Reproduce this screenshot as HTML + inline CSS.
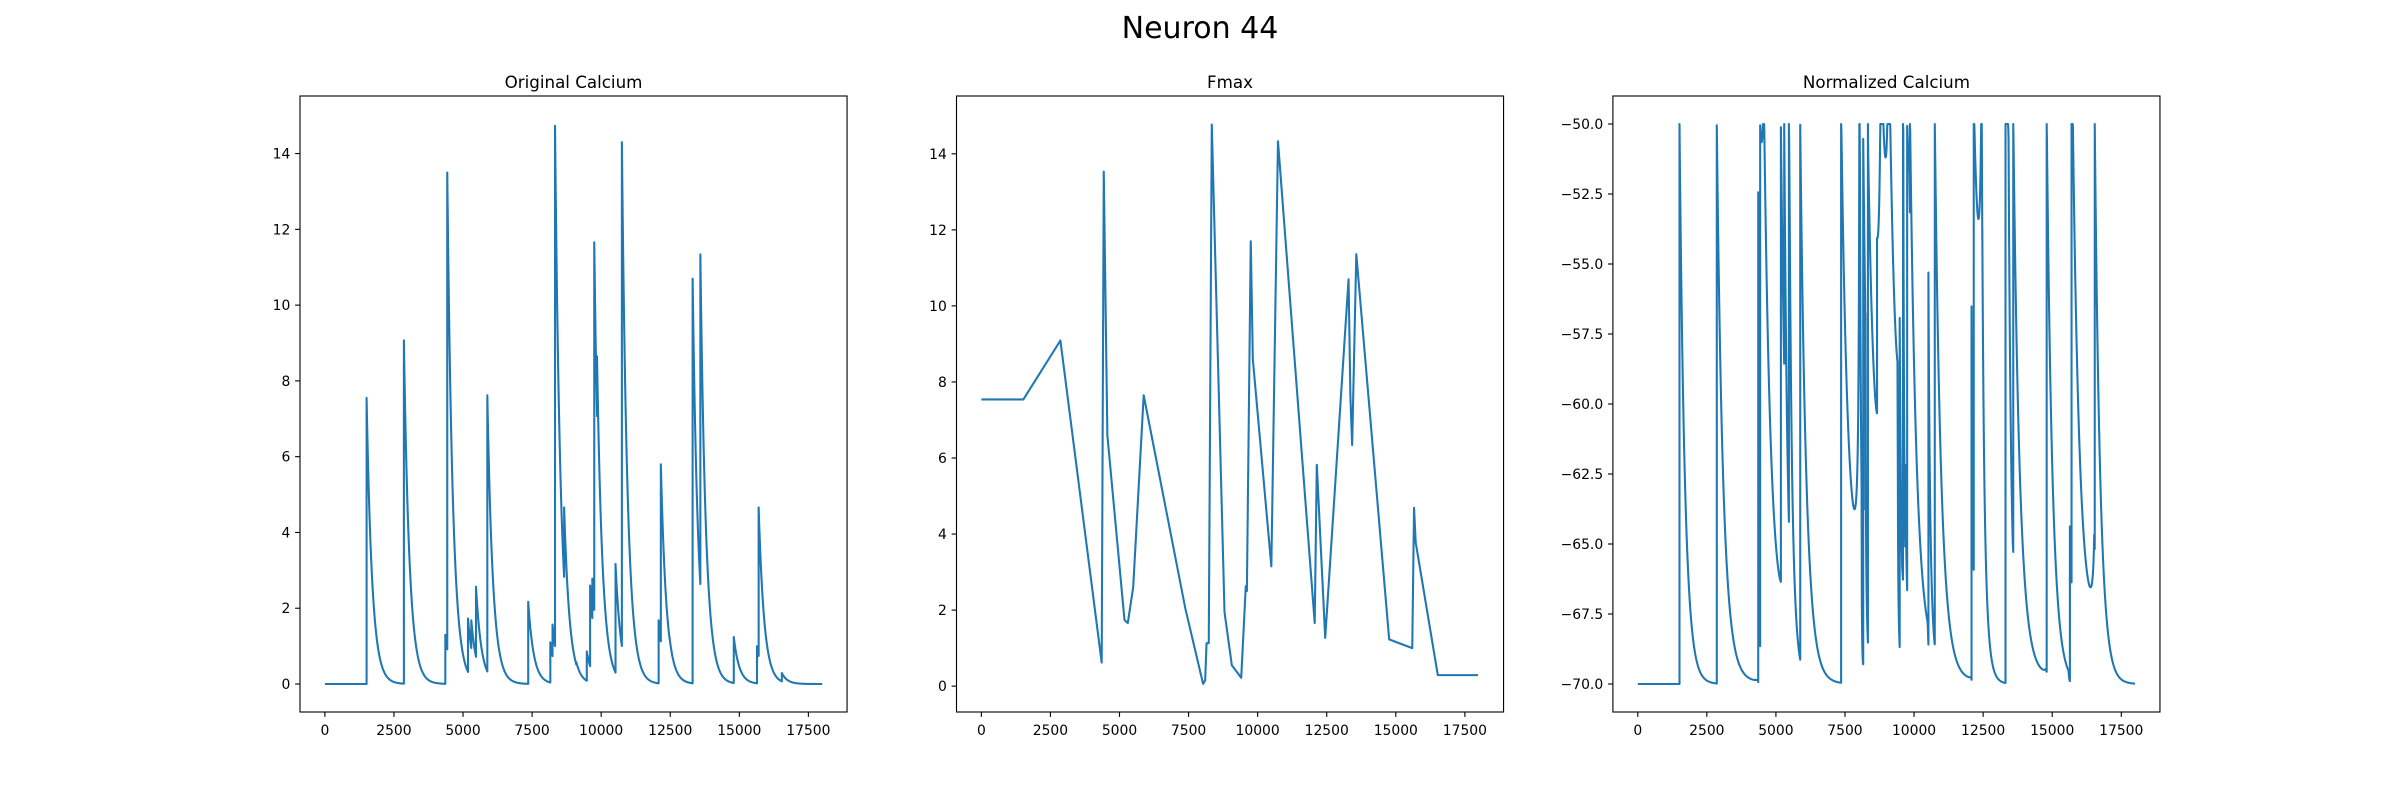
<!DOCTYPE html>
<html><head><meta charset="utf-8"><style>
html,body{margin:0;padding:0;background:#fff;}
svg{display:block;font-family:"DejaVu Sans","Liberation Sans",sans-serif;}
</style></head><body>
<svg id="fig" width="2400" height="800" viewBox="0 0 2400 800" xmlns="http://www.w3.org/2000/svg">
<rect width="2400" height="800" fill="#fff"/>
<text x="1200" y="38" font-size="30" text-anchor="middle" fill="#000">Neuron 44</text>
</svg>
<script>
// Calcium transient events: time and peak value
const evTimes = [1510,2855,4360,4430,5180,5300,5470,5875,7360,8160,8240,8325,8655,9100,9480,9600,9680,9745,9850,10520,10750,12080,12160,12470,13310,13590,14800,15640,15700,16540];
const evPeaks = [7.55,9.07,1.3,13.5,1.73,1.68,2.57,7.62,2.17,1.1,1.57,14.73,4.66,0.58,0.86,2.6,2.78,11.66,8.65,3.17,14.3,1.68,5.8,1.26,10.7,11.34,1.24,1.0,4.66,0.29];
// Fmax vertices
const fmT = [0,1520,2860,4355,4430,4560,5180,5300,5495,5875,7380,8025,8100,8150,8230,8340,8800,9065,9405,9570,9610,9750,9825,10495,10735,12065,12140,12445,13290,13355,13420,13570,14760,15595,15660,15720,16520,17975];
const fmV = [7.54,7.54,9.09,0.62,13.53,6.6,1.74,1.66,2.6,7.65,2.05,0.06,0.15,1.13,1.13,14.77,1.95,0.55,0.22,2.63,2.5,11.7,8.6,3.15,14.33,1.66,5.82,1.27,10.7,7.65,6.34,11.36,1.23,1.0,4.69,3.78,0.29,0.29];
const xTicks = [0,2500,5000,7500,10000,12500,15000,17500];
const yTicksA = [0,2,4,6,8,10,12,14];
const yTicksC = [-70,-67.5,-65,-62.5,-60,-57.5,-55,-52.5,-50];
const tEnd = 18000, tau = 200, dt = 10;

const NS = "http://www.w3.org/2000/svg";
const svg = document.getElementById('fig');
function mk(tag, attrs, parent){const e=document.createElementNS(NS,tag);for(const k in attrs)e.setAttribute(k,attrs[k]);(parent||svg).appendChild(e);return e;}

// build calcium trace
const calT=[], calV=[];
let c=0, ei=0;
for(let t=0;t<=tEnd;t+=dt){
  c*=Math.exp(-dt/tau);
  while(ei<evTimes.length && evTimes[ei]<=t){
    calT.push(t); calV.push(c);
    c=Math.max(c,evPeaks[ei]); ei++;
  }
  calT.push(t); calV.push(c);
}
function fmaxAt(t){
  if(t<=fmT[0])return fmV[0];
  for(let i=1;i<fmT.length;i++){ if(t<=fmT[i]){const f=(t-fmT[i-1])/(fmT[i]-fmT[i-1]);return fmV[i-1]+f*(fmV[i]-fmV[i-1]);} }
  return fmV[fmV.length-1];
}
const normV = calV.map((v,i)=>Math.min(-50,Math.max(-70,-70+20*v/Math.max(fmaxAt(calT[i]),1e-6))));

function panel(name,title,left,xs,ys,yl,yt,ylab){
  const W=547.06,T=96,H=616;
  const sx=v=>left+(v-xs[0])/(xs[1]-xs[0])*W;
  const sy=v=>T+H-(v-yl[0])/(yl[1]-yl[0])*H;
  const g=mk('g',{});
  
  
  const tt=mk('text',{x:left+W/2,y:88,'font-size':16.7,'text-anchor':'middle',fill:'#000'},g);
  
  
  tt.textContent=title;
  const cp='clip-'+name;
  const cl=mk('clipPath',{id:cp},g); mk('rect',{x:left,y:T,width:W,height:H},cl);
  let d='';
  for(let i=0;i<xs[2].length;i++) d+=(i?'L':'M')+sx(xs[2][i]).toFixed(2)+' '+sy(ys[i]).toFixed(2);
  const p=mk('path',{d:d,fill:'none',stroke:'#1f77b4','stroke-width':2.08,'stroke-linejoin':'round','clip-path':'url(#'+cp+')'},g);
  
  
  const fr=mk('rect',{x:left,y:T,width:W,height:H,fill:'none',stroke:'#000','stroke-width':1.1},g);
  
  
  xTicks.forEach(v=>{
    const x=sx(v);
    mk('line',{x1:x,x2:x,y1:T+H,y2:T+H+4.9,stroke:'#000','stroke-width':1.1},g);
    const l=mk('text',{x:x,y:T+H+23,'font-size':13.9,'text-anchor':'middle',fill:'#000'},g);
    
    
    l.textContent=String(v);
  });
  yt.forEach((v,i)=>{
    const y=sy(v);
    mk('line',{x1:left-4.9,x2:left,y1:y,y2:y,stroke:'#000','stroke-width':1.1},g);
    const l=mk('text',{x:left-9.7,y:y+5,'font-size':13.9,'text-anchor':'end',fill:'#000'},g);
    
    
    l.textContent=ylab(v);
  });
}
const xl=[-900,18900];
const fmtMinus=v=>(v<0?'\u2212':'')+Math.abs(v).toFixed(1);
panel('original-calcium','Original Calcium',300,[xl[0],xl[1],calT],calV,[-0.739,15.52],yTicksA,v=>String(v));
panel('fmax','Fmax',956.5,[xl[0],xl[1],fmT],fmV,[-0.68,15.52],yTicksA,v=>String(v));
panel('normalized-calcium','Normalized Calcium',1612.9,[xl[0],xl[1],calT],normV,[-71,-49],yTicksC,fmtMinus);
</script>
</body></html>
